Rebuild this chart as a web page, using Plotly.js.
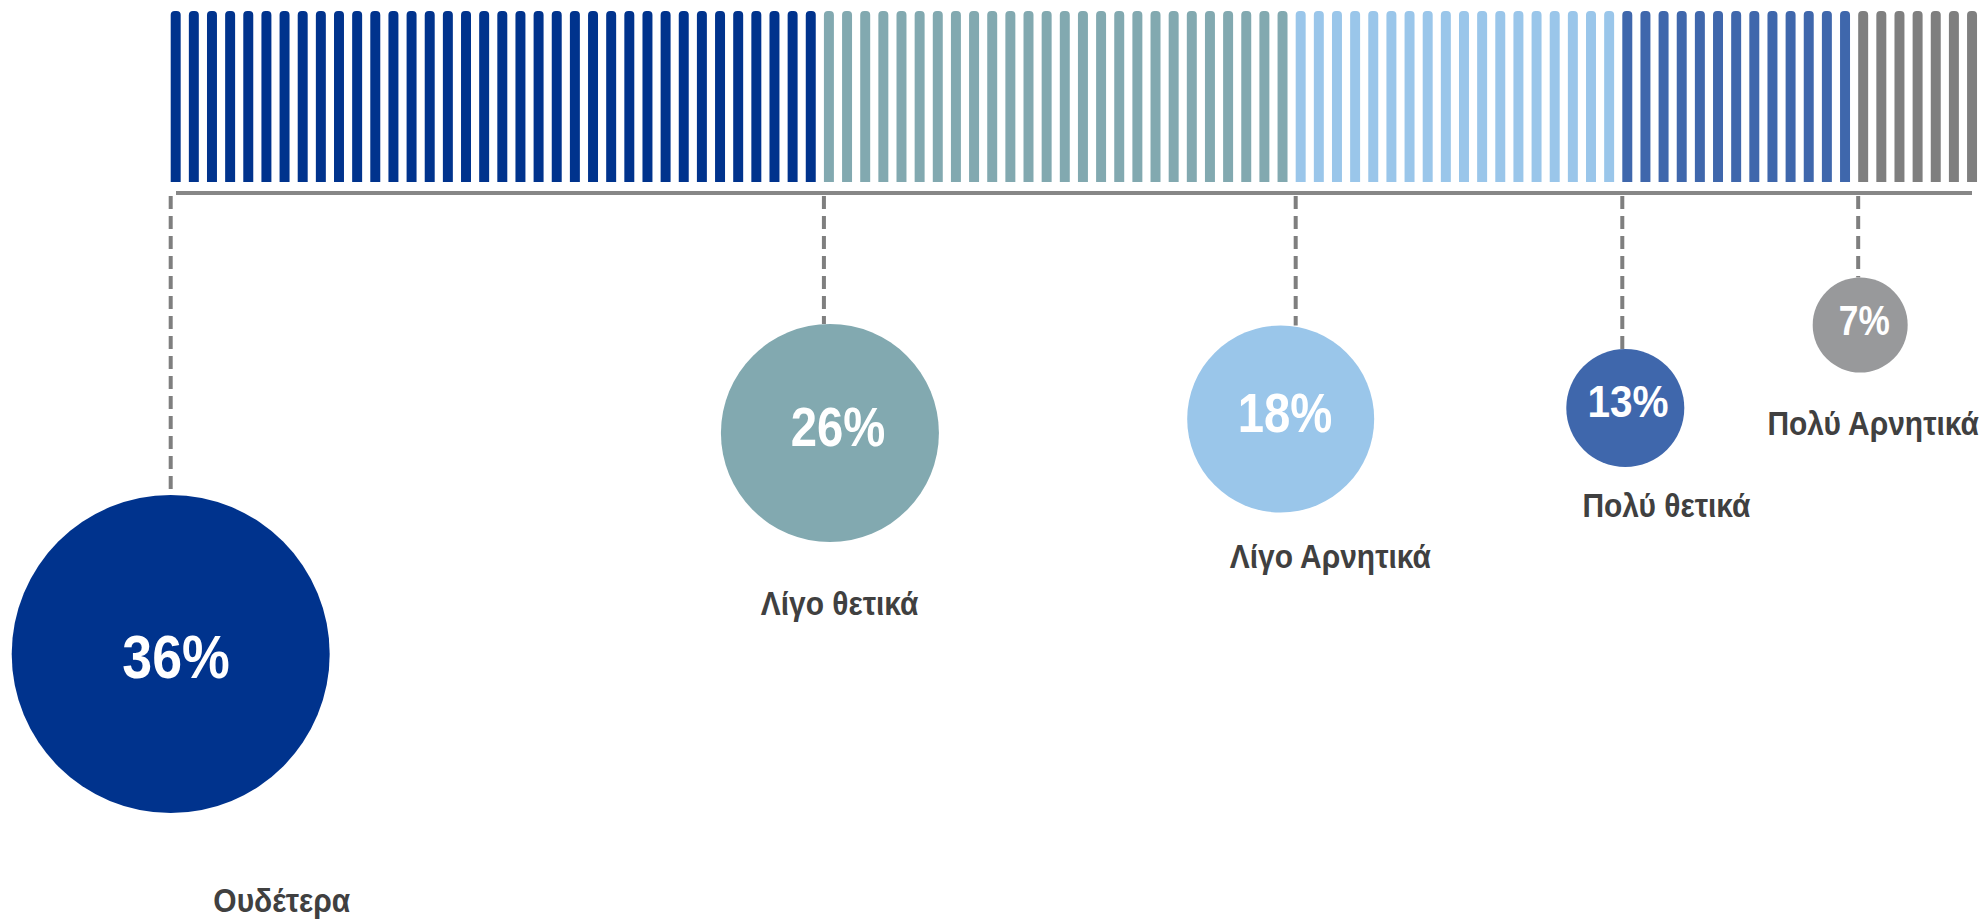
<!DOCTYPE html>
<html>
<head>
<meta charset="utf-8">
<script src="https://cdn.plot.ly/plotly-3.0.1.min.js"></script>
<style>
html,body{margin:0;padding:0;background:#ffffff;}
#chart{width:1987px;height:922px;}
</style>
</head>
<body>
<div id="chart"></div>
<script>
// ---------------- DATA ----------------
const categories = ["Ουδέτερα", "Λίγο θετικά", "Λίγο Αρνητικά", "Πολύ θετικά", "Πολύ Αρνητικά"];
const values = [36, 26, 18, 13, 7];
const percentLabels = ["36%", "26%", "18%", "13%", "7%"];

// ---------------- STYLE ----------------
const stripeColors = ["#00338D", "#82A9B0", "#9AC6EA", "#3F67AC", "#7F7F7F"];
const circleColors = ["#00338D", "#82A9B0", "#9AC6EA", "#3F67AC", "#98999B"];
const circleDiameters = [318, 218, 187, 118, 95];      // px
const circleCenterY = [654, 433, 419, 408, 325];       // px from top
const circleOffsetX = [0, 6, -15, 3, 2];               // px shift from segment start
const pctFontSizes = [61, 55, 55, 45, 42];
const pctScaleX = [0.88, 0.86, 0.86, 0.9, 0.84];       // condensed look
const pctShift = [[5, -3], [8, 6], [4, 6], [3, 7], [4, 5]]; // [x, y(up)] px
const labelX = [282, 839, 1330, 1666, 1873];           // px
const labelY = [900, 603, 556, 505, 423];              // px
const labelFontSize = 34;
const labelScaleX = 0.88;

const W = 1987, H = 922;
const pitch = 18.145;      // px per percentage point
const x0px = 170.7;        // px position of 0%
const px2x = p => (p - x0px) / pitch;

const fontFam = "'Liberation Sans', Arial, sans-serif";

// cumulative segment starts
const starts = [];
let acc = 0;
values.forEach(v => { starts.push(acc); acc += v; });

// stripes: one per percentage point
const stripeX = [], stripeY = [], stripeCol = [];
values.forEach((v, i) => {
  for (let k = 0; k < v; k++) {
    stripeX.push(starts[i] + k);
    stripeY.push(1);
    stripeCol.push(stripeColors[i]);
  }
});

const traces = [
  {
    type: "bar",
    x: stripeX,
    y: stripeY,
    xaxis: "x",
    yaxis: "y2",
    offset: 0,
    width: 0.55,
    marker: { color: stripeCol, line: { width: 0 } },
    hoverinfo: "skip",
    showlegend: false
  },
  {
    type: "scatter",
    mode: "markers",
    x: starts.map((s, i) => s + circleOffsetX[i] / pitch),
    y: circleCenterY,
    xaxis: "x",
    yaxis: "y",
    marker: { size: circleDiameters, color: circleColors, line: { width: 0 }, opacity: 1 },
    text: categories,
    hoverinfo: "skip",
    showlegend: false,
    cliponaxis: false
  }
];

const shapes = [];
// baseline under the stripes
shapes.push({
  type: "line", xref: "x", yref: "y",
  x0: px2x(176), x1: px2x(1972), y0: 193, y1: 193,
  line: { color: "#878787", width: 4 }
});
// dashed leader lines
values.forEach((v, i) => {
  shapes.push({
    type: "line", xref: "x", yref: "y",
    x0: starts[i], x1: starts[i],
    y0: 196, y1: circleCenterY[i] - circleDiameters[i] / 2,
    line: { color: "#7F7F7F", width: 4, dash: "13px,7px" },
    layer: "below"
  });
});

const annotations = [];
const annScale = [];
values.forEach((v, i) => {
  annotations.push({
    xref: "x", yref: "y",
    x: starts[i] + circleOffsetX[i] / pitch,
    y: circleCenterY[i],
    xshift: pctShift[i][0], yshift: pctShift[i][1],
    text: percentLabels[i],
    showarrow: false,
    xanchor: "center", yanchor: "middle",
    font: { family: fontFam, size: pctFontSizes[i], color: "#FFFFFF", weight: "bold" }
  });
  annScale.push(pctScaleX[i]);
  annotations.push({
    xref: "x", yref: "y",
    x: px2x(labelX[i]), y: labelY[i],
    text: categories[i],
    showarrow: false,
    xanchor: "center", yanchor: "middle",
    font: { family: fontFam, size: labelFontSize, color: "#404040", weight: "bold" }
  });
  annScale.push(labelScaleX);
});

const layout = {
  width: W, height: H,
  margin: { l: 0, r: 0, t: 0, b: 0, pad: 0 },
  paper_bgcolor: "#FFFFFF",
  plot_bgcolor: "#FFFFFF",
  showlegend: false,
  barcornerradius: 5,
  xaxis: { range: [px2x(0), px2x(W)], visible: false, fixedrange: true },
  yaxis: { range: [H, 0], domain: [0, 1], visible: false, fixedrange: true },
  yaxis2: { range: [0, 1], domain: [1 - 182 / H, 1 - 11 / H], anchor: "x", visible: false, fixedrange: true },
  shapes: shapes,
  annotations: annotations
};

Plotly.newPlot("chart", traces, layout, { displayModeBar: false, staticPlot: true }).then(gd => {
  // give the annotation texts a condensed look (horizontal squeeze about their centre)
  annScale.forEach((s, k) => {
    const t = gd.querySelector('.annotation[data-index="' + k + '"] text.annotation-text');
    if (t) {
      t.style.transformBox = "fill-box";
      t.style.transformOrigin = "center";
      t.style.transform = "scaleX(" + s + ")";
    }
  });
});
</script>
</body>
</html>
